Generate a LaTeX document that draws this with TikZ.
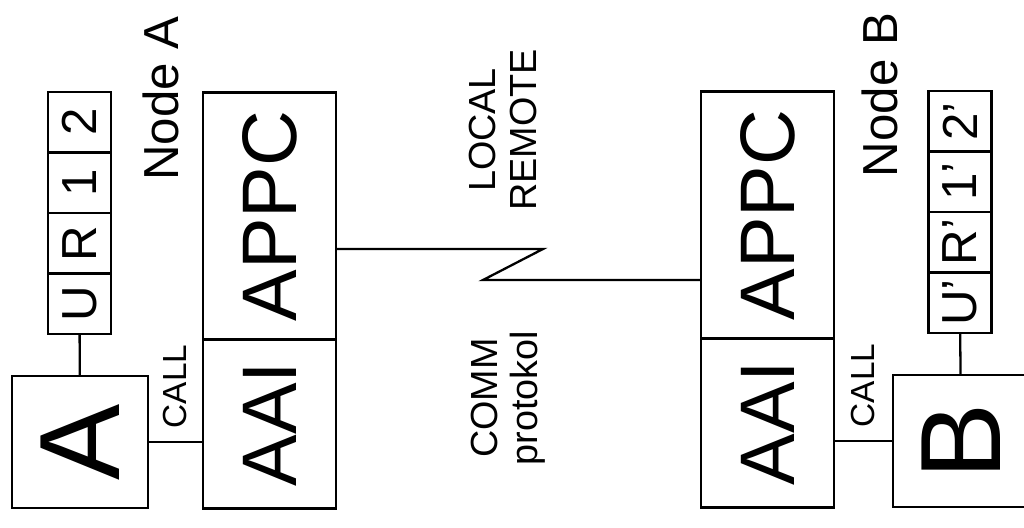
\documentclass[tikz,border=0pt]{standalone}
\usepackage{fontspec}
\setmainfont{Liberation Sans}
\usetikzlibrary{positioning}
\begin{document}
\begin{tikzpicture}[line width=1.3pt]
	\useasboundingbox (0,0) rectangle (20.48,10.56);
	\begin{scope}[shift={(20.48,0)}, rotate=90, transform shape]
		\tikzstyle{box} =[draw, inner sep=0pt, minimum width=2.64cm, minimum height=2.72cm, font=\fontsize{65}{70}\selectfont];
		\tikzstyle{cell} =[draw, inner sep=0pt, minimum width=1.21cm, minimum height=1.26cm, font=\fontsize{28}{30}\selectfont];
		\tikzstyle{aai} =[draw, inner sep=0pt, minimum width=3.38cm, minimum height=2.66cm, font=\fontsize{44}{48}\selectfont];
		\tikzstyle{appc} =[aai, minimum width=4.94cm];
		\tikzstyle{nodetitle} =[inner sep=0pt, font=\fontsize{28}{30}\selectfont];
		\tikzstyle{calltext} =[inner sep=0pt, font=\fontsize{19}{21}\selectfont];
		\tikzstyle{linktext} =[inner sep=0pt, align=center, font=\fontsize{21.5}{23}\selectfont];

		% Node A
		\node[box] (boxA) at (1.72,18.88) {A};
		\node[cell] (uA) at (4.485,18.89) {U};
		\node[cell, right of = uA, node distance=1.21cm] (rA) {R};
		\node[cell, right of = rA, node distance=1.21cm] (oneA) {1};
		\node[cell, right of = oneA, node distance=1.21cm] (twoA) {2};
		\node[nodetitle] (titleA) at (8.59,17.26) {Node A};
		\node[aai] (aaiA) at (2.08,15.09) {AAI};
		\node[appc, right of = aaiA, node distance=4.16cm] (appcA) {APPC};

		% Node B
		\node[box] (boxB) at (1.74,1.26) {B};
		\node[cell] (uB) at (4.505,1.28) {U'};
		\node[cell, right of = uB, node distance=1.21cm] (rB) {R'};
		\node[cell, right of = rB, node distance=1.21cm] (oneB) {1'};
		\node[cell, right of = oneB, node distance=1.21cm] (twoB) {2'};
		\node[nodetitle] (titleB) at (8.66,2.88) {Node B};
		\node[aai] (aaiB) at (2.10,5.13) {AAI};
		\node[appc, right of = aaiB, node distance=4.16cm] (appcB) {APPC};

		% link
		\node[linktext] (local) at (7.96,10.42) {LOCAL\\REMOTE};
		\node[linktext] (comm) at (2.6,10.32) {COMM\\protokol};
		\coordinate (zigtop) at (5.58,9.62);
		\coordinate (zigbot) at (4.96,10.82);

		\draw (boxA) -- (uA);
		\draw (boxA.south) -- (boxA.south |- aaiA.north) node[calltext, midway, right=0.25cm] (callA) {CALL};
		\draw (boxB) -- (uB);
		\draw (boxB.north) -- (boxB.north |- aaiB.south) node[calltext, midway, right=0.25cm] (callB) {CALL};
		\draw (appcA.south -| zigtop) -- (zigtop) -- (zigbot) -- (zigbot |- appcB.north);
	\end{scope}
\end{tikzpicture}
\end{document}
